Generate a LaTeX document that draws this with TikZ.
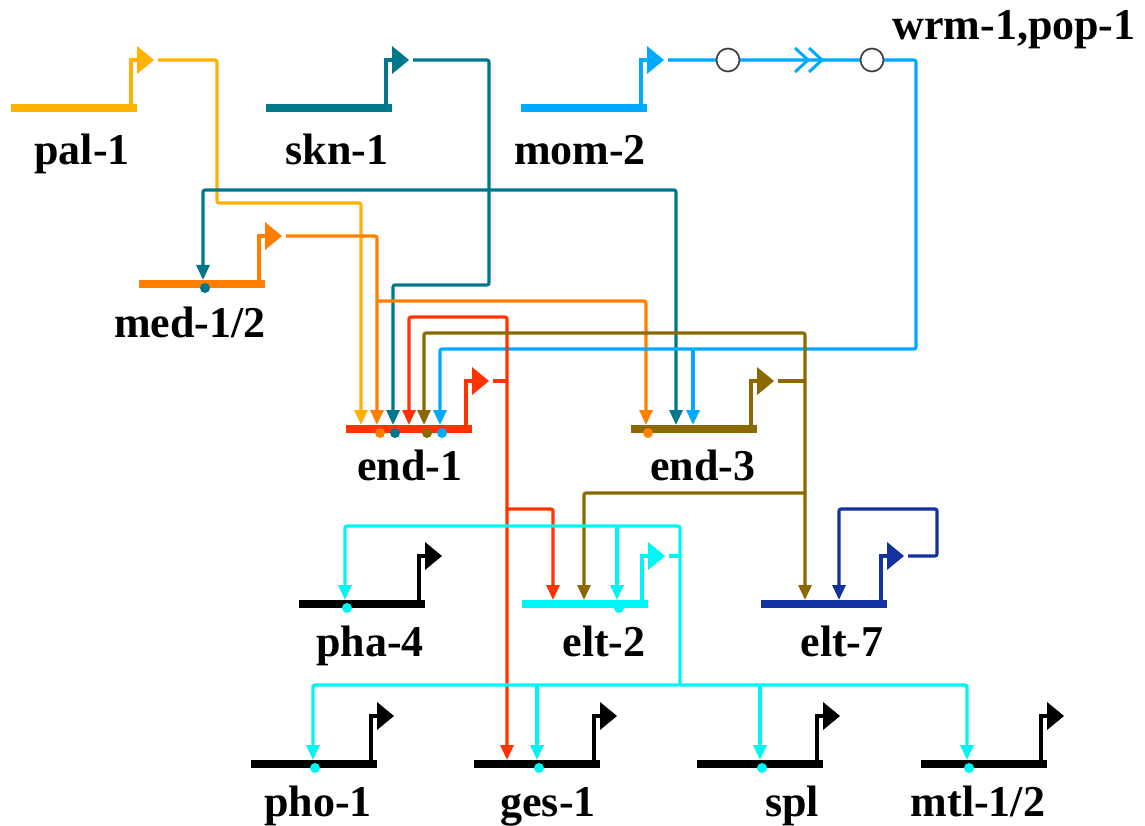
\documentclass[tikz,border=0pt]{standalone}
\usepackage{fontspec}
\setmainfont{Liberation Serif}
\usetikzlibrary{arrows.meta}
\definecolor{cpal}{HTML}{FFB200}
\definecolor{cmed}{HTML}{FF8000}
\definecolor{cskn}{HTML}{00788C}
\definecolor{cmom}{HTML}{00AAFF}
\definecolor{cend1}{HTML}{FF3300}
\definecolor{cend3}{HTML}{8C6900}
\definecolor{celt2}{HTML}{00F5F5}
\definecolor{celt7}{HTML}{14329F}
\tikzset{
  lbl/.style={font=\bfseries\fontsize{44}{44}\selectfont, anchor=base, inner sep=0pt},
  conn/.style={line width=3.1pt, rounded corners=2pt},
  arr/.style={-{Triangle[width=13pt,length=15pt]}},
  arrs/.style={{Triangle[width=13pt,length=15pt]}-{Triangle[width=13pt,length=15pt]}},
  genebar/.style={line width=7.5pt},
  prom/.style={line width=4.8pt, line join=miter},
  knot/.style={circle, draw=black!75, fill=white, line width=1.7pt, minimum size=23pt, inner sep=0pt},
}
\newcommand\gsym[4]{%
  \draw[genebar,#2] (#3,#4) -- (#3+126,#4);
  \draw[prom,#2] (#3+120,#4) -- (#3+120,#4-48) -- (#3+127,#4-48);
  \fill[#2] (#3+126,#4-62) -- (#3+143,#4-48) -- (#3+126,#4-34) -- cycle;
  \coordinate (#1-out) at (#3+147,#4-48);
}
\newcommand\site[3]{\fill[#1] (#2+2,#3+4) circle (5pt);}
\begin{document}
\begin{tikzpicture}[x=1pt,y=-1pt]
\fill[white] (0,0) rectangle (1145,826);
\useasboundingbox (0,0) rectangle (1145,826);

% genes
\gsym{pal}{cpal}{11}{108}
\gsym{skn}{cskn}{266}{108}
\gsym{mom}{cmom}{521}{108}
\gsym{med}{cmed}{139}{284}
\gsym{eone}{cend1}{346}{429}
\gsym{ethree}{cend3}{631}{429}
\gsym{pha}{black}{299}{604}
\gsym{eltb}{celt2}{522}{604}
\gsym{eltg}{celt7}{761}{604}
\gsym{pho}{black}{251}{764}
\gsym{ges}{black}{474}{764}
\gsym{spl}{black}{697}{764}
\gsym{mtl}{black}{921}{764}

% targets
\coordinate (e1a) at (361,425);
\coordinate (e1b) at (377,425);
\coordinate (e1c) at (393,425);
\coordinate (e1d) at (409,425);
\coordinate (e1e) at (424,425);
\coordinate (e1f) at (440,425);
\coordinate (e3a) at (646,425);
\coordinate (e3b) at (676,425);
\coordinate (e3c) at (693,425);
\coordinate (meda) at (203,280);
\coordinate (e2a) at (553,600);
\coordinate (e2b) at (584,600);
\coordinate (e2c) at (617,600);
\coordinate (p4a) at (345,600);
\coordinate (e7a) at (805,600);
\coordinate (e7b) at (839,600);
\coordinate (ph1a) at (313,760);
\coordinate (g1a) at (507,760);
\coordinate (g1b) at (537,760);
\coordinate (spla) at (760,760);
\coordinate (mtla) at (967,760);
% junctions
\coordinate (jpal) at (217,203);
\coordinate (jskn) at (489,285);
\coordinate (jsknt) at (676,190);
\coordinate (jmed) at (377,301);
\coordinate (jmom) at (916,349);
\coordinate (jmomb) at (693,349);
\coordinate (rtop) at (507,317);
\coordinate (rmid) at (507,509);
\coordinate (btop) at (805,333);
\coordinate (bmid) at (805,493);
\coordinate (ctop) at (680,526);
\coordinate (cbot) at (680,685);
\coordinate (ctopb) at (617,526);
\coordinate (cbotb) at (537,685);
\coordinate (cbotc) at (760,685);
\coordinate (jnav) at (937,509);

% pal-1
\draw[conn,arr,cpal] (pal-out) -| (jpal) -| (e1a);
% skn-1
\draw[conn,arr,cskn] (skn-out) -| (jskn) -| (e1c);
\draw[conn,arrs,cskn] (meda) |- (jsknt) -- (e3b);
% med-1/2
\draw[conn,arr,cmed] (med-out) -| (e1b);
\draw[conn,arr,cmed] (jmed) -| (e3a);
% mom-2
\draw[conn,arr,cmom] (mom-out) -| (jmom) -| (e1f);
\draw[conn,arr,cmom] (jmomb) -- (e3c);
\node[knot] (k1) at (728,60) {};
\node[knot] (k2) at (872,60) {};
\draw[cmom,line width=3pt] (795,48) -- (808,60) -- (795,72);
\draw[cmom,line width=3pt] (809,48) -- (822,60) -- (809,72);
% end-1
\draw[conn,arrs,cend1] (e1d) |- (rtop) -- (g1a);
\draw[conn,cend1] (eone-out) -- (eone-out -| rtop);
\draw[conn,arr,cend1] (rmid) -| (e2a);
% end-3
\draw[conn,arrs,cend3] (e1e) |- (btop) -- (e7a);
\draw[conn,cend3] (ethree-out) -- (ethree-out -| btop);
\draw[conn,arr,cend3] (bmid) -| (e2b);
% elt-2
\draw[conn,arrs,celt2] (p4a) |- (ctop) -- (cbot) -| (ph1a);
\draw[conn,arr,celt2] (ctopb) -- (e2c);
\draw[conn,celt2] (eltb-out) -- (eltb-out -| ctop);
\draw[conn,arr,celt2] (cbotb) -- (g1b);
\draw[conn,arr,celt2] (cbotc) -- (spla);
\draw[conn,arr,celt2] (cbot) -| (mtla);
% elt-7
\draw[conn,arr,celt7] (eltg-out) -| (jnav) -| (e7b);

% binding sites
\site{cskn}{203}{284}
\site{cmed}{378}{429}
\site{cskn}{393}{429}
\site{cend3}{425}{429}
\site{cmom}{440}{429}
\site{cmed}{646}{429}
\site{celt2}{345}{604}
\site{celt2}{617}{604}
\site{celt2}{313}{764}
\site{celt2}{537}{764}
\site{celt2}{760}{764}
\site{celt2}{967}{764}

% labels
\node[lbl] (lpal) at (82,165) {pal-1};
\node[lbl] (lskn) at (337,165) {skn-1};
\node[lbl] (lmom) at (580,165) {mom-2};
\node[lbl] (lwrm) at (1014,40) {wrm-1,pop-1};
\node[lbl] (lmed) at (190,337) {med-1/2};
\node[lbl] (le1) at (410,480) {end-1};
\node[lbl] (le3) at (703,480) {end-3};
\node[lbl] (lpha) at (370,656) {pha-4};
\node[lbl] (le2) at (604,656) {elt-2};
\node[lbl] (le7) at (842,656) {elt-7};
\node[lbl] (lpho) at (318,816) {pho-1};
\node[lbl] (lges) at (548,816) {ges-1};
\node[lbl] (lspl) at (792,816) {spl};
\node[lbl] (lmtl) at (978,816) {mtl-1/2};
\end{tikzpicture}
\end{document}
